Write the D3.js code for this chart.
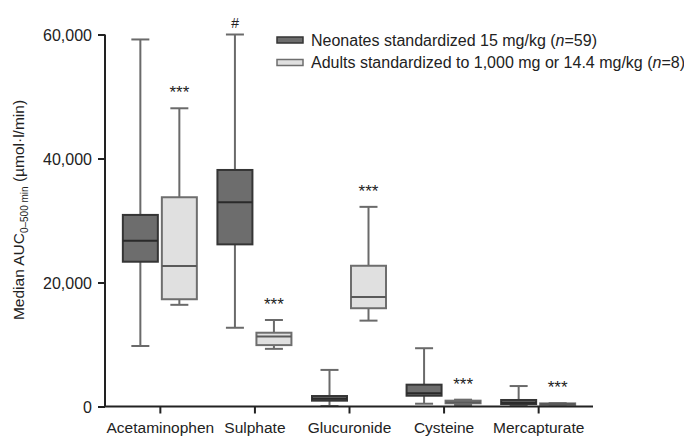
<!DOCTYPE html>
<html>
<head>
<meta charset="utf-8">
<script src="https://cdn.jsdelivr.net/npm/d3@7"></script>
<style>
  body { margin: 0; background: #fff; }
  text { font-family: "Liberation Sans", Arial, sans-serif; fill: #222; }
</style>
</head>
<body>
<div id="viz"></div>
<script>
// categories and box stats [min, q1, median, q3, max]
var categories = ['Acetaminophen', 'Sulphate', 'Glucuronide', 'Cysteine', 'Mercapturate'];
var neonates = [
  [9760, 23350, 26740, 30900, 59200],
  [12700, 26150, 32950, 38150, 60000],
  [80, 940, 1260, 1690, 5900],
  [450, 1740, 2130, 3520, 9400],
  [80, 400, 620, 1050, 3300]
];
var adults = [
  [16400, 17300, 22650, 33750, 48100],
  [9300, 9900, 11300, 11900, 13950],
  [13850, 15850, 17650, 22700, 32200],
  [250, 520, 700, 940, 1100],
  [100, 300, 400, 500, 550]
];
var neonateMarks = ['', '#', '', '', ''];
var adultMarks = ['***', '***', '***', '***', '***'];
var yTicks = [0, 20000, 40000, 60000];
var legendLabels = ['Neonates standardized 15 mg/kg (', 'Adults standardized to 1,000 mg or 14.4 mg/kg ('];
var legendN = ['59', '8'];

var svg = d3.select('#viz').append('svg')
  .attr('width', 684)
  .attr('height', 437);

var y = d3.scaleLinear().domain([0, 60000]).range([406.5, 34.5]);
var x = d3.scalePoint().domain(categories).range([105, 593]).padding(0.58);

var boxW = 35, off = 19.5;
var groups = [
  { data: neonates, marks: neonateMarks, dx: -off, fill: '#6d6d6d', stroke: '#353535', med: '#2a2a2a', wh: '#6a6a6a' },
  { data: adults, marks: adultMarks, dx: off, fill: '#e0e0e0', stroke: '#6e6e6e', med: '#5a5a5a', wh: '#6a6a6a' }
];

groups.forEach(function(g) {
  var sel = svg.append('g').selectAll('g')
    .data(g.data)
    .enter().append('g')
    .attr('transform', function(d, i) { return 'translate(' + (x(categories[i]) + g.dx) + ',0)'; });

  // whisker
  sel.append('line')
    .attr('x1', 0).attr('x2', 0)
    .attr('y1', function(d) { return y(d[0]); })
    .attr('y2', function(d) { return y(d[4]); })
    .style('stroke', g.wh).style('stroke-width', 2);
  sel.selectAll('line.cap')
    .data(function(d) { return [d[0], d[4]]; })
    .enter().append('line')
    .attr('class', 'cap')
    .attr('x1', -9).attr('x2', 9)
    .attr('y1', function(v) { return y(v); })
    .attr('y2', function(v) { return y(v); })
    .style('stroke', g.wh).style('stroke-width', 2);

  sel.append('rect')
    .attr('x', -boxW / 2)
    .attr('width', boxW)
    .attr('y', function(d) { return y(d[3]); })
    .attr('height', function(d) { return Math.max(1.5, y(d[1]) - y(d[3])); })
    .style('fill', g.fill)
    .style('stroke', g.stroke)
    .style('stroke-width', 2);

  sel.append('line')
    .attr('x1', -boxW / 2).attr('x2', boxW / 2)
    .attr('y1', function(d) { return y(d[2]); })
    .attr('y2', function(d) { return y(d[2]); })
    .style('stroke', g.med).style('stroke-width', 2);

  sel.append('text')
    .attr('text-anchor', 'middle')
    .attr('y', function(d, i) { return y(d[4]) - (g.marks[i] === '#' ? 7 : 10); })
    .style('font-size', function(d, i) { return g.marks[i] === '#' ? '14px' : '17px'; })
    .style('font-style', function(d, i) { return g.marks[i] === '#' ? 'italic' : 'normal'; })
    .text(function(d, i) { return g.marks[i]; });
});

// axes
var yAxis = svg.append('g')
  .attr('transform', 'translate(105,0)')
  .call(d3.axisLeft(y).tickValues(yTicks).tickFormat(d3.format(',')).tickSize(7).tickPadding(6));
var xAxis = svg.append('g')
  .attr('transform', 'translate(0,406.5)')
  .call(d3.axisBottom(x).tickSize(7).tickPadding(6));
[yAxis, xAxis].forEach(function(a) {
  a.select('.domain').style('stroke', '#222').style('stroke-width', 2);
  a.selectAll('.tick line').style('stroke', '#222').style('stroke-width', 2);
  a.selectAll('.tick text').style('font-size', '15.5px').style('fill', '#222')
    .style('font-family', '"Liberation Sans", Arial, sans-serif');
});
yAxis.select('.domain').attr('d', 'M0,406.5V34.5');
xAxis.select('.domain').attr('d', 'M105,0H593');
yAxis.selectAll('.tick text').style('font-size', '16px').attr('dy', '0.36em');
xAxis.selectAll('.tick text').attr('dy', '0.9em');

// y title
var yt = svg.append('text')
  .attr('transform', 'translate(24,210) rotate(-90)')
  .attr('text-anchor', 'middle')
  .style('font-size', '15.5px');
yt.append('tspan').text('Median AUC');
yt.append('tspan').attr('dy', 4).style('font-size', '10px').text('0–500 min');
yt.append('tspan').attr('dy', -4).text(' (µmol·l/min)');

// legend
var leg = svg.append('g').selectAll('g')
  .data(groups)
  .enter().append('g')
  .attr('transform', function(d, i) { return 'translate(277,' + (37 + i * 22.5) + ')'; });
leg.append('rect')
  .attr('width', 26).attr('height', 6)
  .style('fill', function(d) { return d.fill; })
  .style('stroke', function(d) { return d.stroke; })
  .style('stroke-width', 1.5);
var lt = leg.append('text')
  .attr('x', 34).attr('y', 8.5)
  .style('font-size', '16px');
lt.append('tspan').text(function(d, i) { return legendLabels[i]; });
lt.append('tspan').style('font-style', 'italic').text('n');
lt.append('tspan').text(function(d, i) { return '=' + legendN[i] + ')'; });
</script>
</body>
</html>
